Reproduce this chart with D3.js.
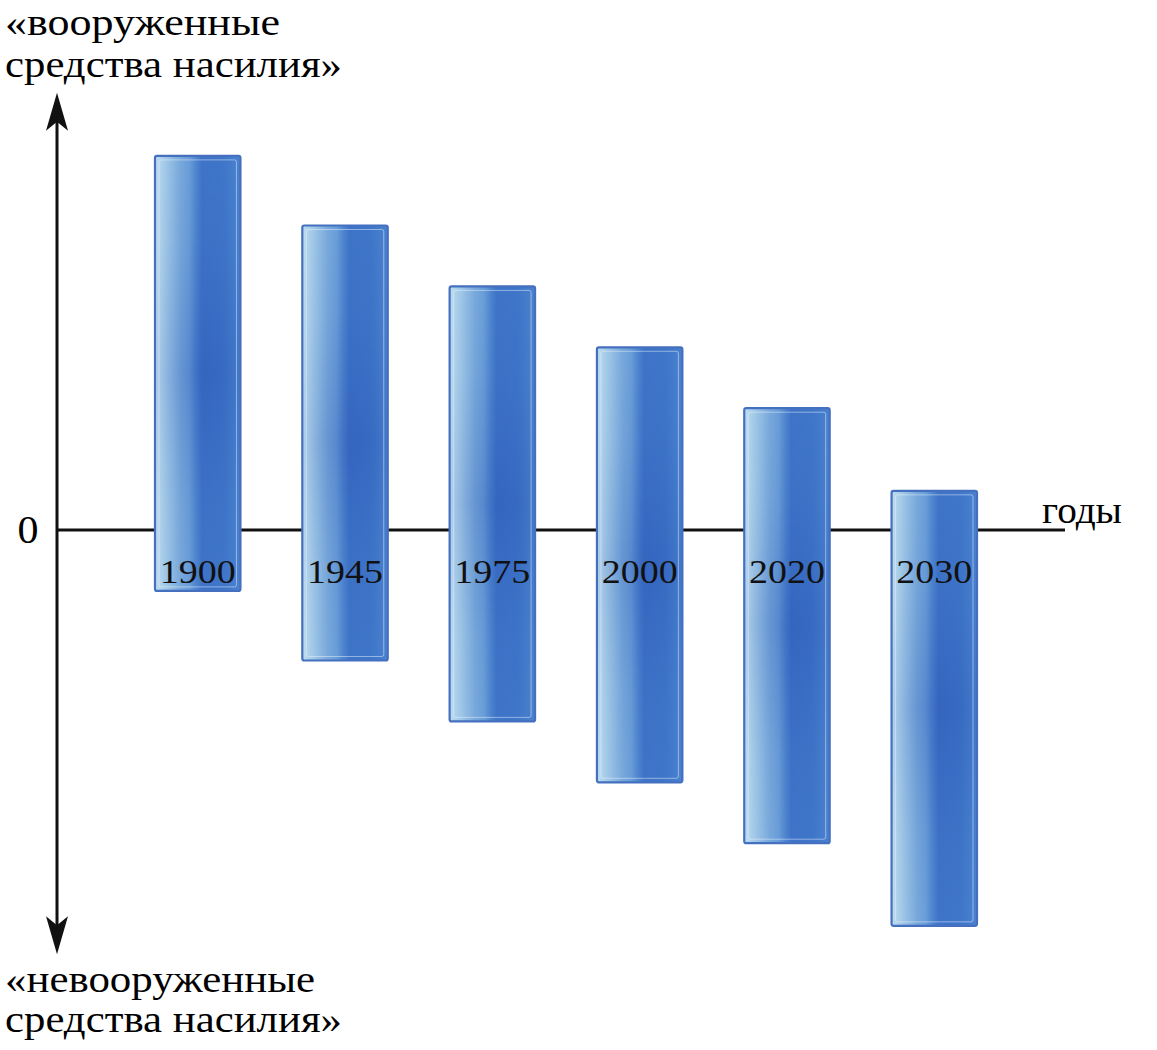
<!DOCTYPE html>
<html>
<head>
<meta charset="utf-8">
<script src="https://cdn.jsdelivr.net/npm/d3@7/dist/d3.min.js"></script>
<style>
  html, body { margin: 0; padding: 0; background: #ffffff; }
  svg { display: block; }
</style>
</head>
<body>
<svg id="chart" width="1157" height="1050"></svg>
<script>
// ---- data ----
const years = ["1900", "1945", "1975", "2000", "2020", "2030"];
const armed = [86, 70, 56, 42, 28, 9];        // «вооруженные средства насилия» (above zero)
const unarmed = [14, 30, 44, 58, 72, 91];     // «невооруженные средства насилия» (below zero)
const topLabel = ["«вооруженные", "средства насилия»"];
const bottomLabel = ["«невооруженные", "средства насилия»"];
const xAxisLabel = "годы";
const zeroLabel = "0";

const FONT = "'Liberation Serif', 'DejaVu Serif Condensed', 'DejaVu Serif', 'Noto Serif', serif";

// ---- layout ----
const svg = d3.select("#chart");
const axisX = 57;
const zeroY = 530;
const unit = 4.35;

const y = d3.scaleLinear().domain([-100, 100]).range([zeroY + 100 * unit, zeroY - 100 * unit]);
const x = d3.scaleBand().domain(years).range([155, 977]).paddingInner(0.42).paddingOuter(0);

const data = years.map((yr, i) => ({ year: yr, top: armed[i], bottom: -unarmed[i] }));

// ---- gradients ----
const defs = svg.append("defs");
const hg = defs.append("linearGradient").attr("id", "hgrad").attr("x1", 0).attr("x2", 1).attr("y1", 0).attr("y2", 0);
[[0, "#c0def1"], [0.12, "#a2c9e7"], [0.3, "#78a8db"], [0.4, "#6a9ed8"], [0.48, "#4f86cf"],
 [0.55, "#3f74c8"], [0.8, "#3f76c9"], [1, "#4b83cf"]].forEach(([o, c]) =>
  hg.append("stop").attr("offset", o).attr("stop-color", c));

const vg = defs.append("linearGradient").attr("id", "vgrad").attr("x1", 0).attr("x2", 0).attr("y1", 0).attr("y2", 1);
[[0, 0], [0.2, 0.08], [0.5, 0.4], [0.8, 0.08], [1, 0]].forEach(([o, a]) =>
  vg.append("stop").attr("offset", o).attr("stop-color", "#2550b2").attr("stop-opacity", a));

const mg = defs.append("linearGradient").attr("id", "mgrad").attr("x1", 0).attr("x2", 1).attr("y1", 0).attr("y2", 0);
[[0, 0.2], [0.35, 0.6], [0.55, 1], [0.75, 0.85], [1, 0.45]].forEach(([o, a]) =>
  mg.append("stop").attr("offset", o).attr("stop-color", "#fff").attr("stop-opacity", a));
defs.append("mask").attr("id", "hmask").attr("maskContentUnits", "objectBoundingBox")
  .append("rect").attr("x", 0).attr("y", 0).attr("width", 1).attr("height", 1).attr("fill", "url(#mgrad)");

// ---- zero line ----
svg.append("line")
  .attr("x1", axisX).attr("x2", 1065)
  .attr("y1", y(0)).attr("y2", y(0))
  .attr("stroke", "#111").attr("stroke-width", 3);

// ---- vertical axis with arrows ----
const topTip = y(100.5), botTip = y(-97.5);
svg.append("line")
  .attr("x1", axisX).attr("x2", axisX)
  .attr("y1", topTip + 20).attr("y2", botTip - 20)
  .attr("stroke", "#111").attr("stroke-width", 3);
function arrow(tipY, dir) {
  const p = d3.path();
  p.moveTo(axisX, tipY);
  p.lineTo(axisX + 11, tipY - dir * 38);
  p.lineTo(axisX, tipY - dir * 29);
  p.lineTo(axisX - 11, tipY - dir * 38);
  p.closePath();
  svg.append("path").attr("d", p.toString()).attr("fill", "#111");
}
arrow(topTip, -1);
arrow(botTip, 1);

// ---- bars ----
const g = svg.append("g").selectAll("g").data(data).join("g");
g.append("rect")
  .attr("x", d => x(d.year)).attr("y", d => y(d.top))
  .attr("width", x.bandwidth()).attr("height", d => y(d.bottom) - y(d.top))
  .attr("rx", 2).attr("fill", "url(#hgrad)");
g.append("rect")
  .attr("x", d => x(d.year)).attr("y", d => y(d.top))
  .attr("width", x.bandwidth()).attr("height", d => y(d.bottom) - y(d.top))
  .attr("fill", "url(#vgrad)").attr("mask", "url(#hmask)");
g.append("rect")
  .attr("x", d => x(d.year)).attr("y", d => y(d.top))
  .attr("width", x.bandwidth()).attr("height", d => y(d.bottom) - y(d.top))
  .attr("rx", 2).attr("fill", "none")
  .attr("stroke", "#4570c0").attr("stroke-width", 2.2);
g.append("rect")
  .attr("x", d => x(d.year) + 4).attr("y", d => y(d.top) + 4)
  .attr("width", x.bandwidth() - 8).attr("height", d => y(d.bottom) - y(d.top) - 8)
  .attr("rx", 2).attr("fill", "none")
  .attr("stroke", "#e8f2fb").attr("stroke-opacity", 0.5).attr("stroke-width", 1);

// year labels
g.append("text")
  .attr("x", d => x(d.year) + x.bandwidth() / 2)
  .attr("y", y(0) + 53)
  .attr("text-anchor", "middle")
  .attr("font-family", FONT).attr("font-size", 34).attr("fill", "#111")
  .attr("textLength", 76).attr("lengthAdjust", "spacingAndGlyphs")
  .text(d => d.year);

// ---- axis labels ----
svg.append("text").attr("x", 28).attr("y", y(0) + 13).attr("text-anchor", "middle")
  .attr("font-family", FONT).attr("font-size", 41)
  .attr("textLength", 21).attr("lengthAdjust", "spacingAndGlyphs").text(zeroLabel);
svg.append("text").attr("x", 1042).attr("y", y(0) - 7)
  .attr("font-family", FONT).attr("font-size", 37)
  .attr("textLength", 80).attr("lengthAdjust", "spacingAndGlyphs").text(xAxisLabel);

const topLens = [275, 337];
const botLens = [310, 337];
topLabel.forEach((t, i) =>
  svg.append("text").attr("x", 5).attr("y", 35 + i * 42)
    .attr("font-family", FONT).attr("font-size", 38)
    .attr("textLength", topLens[i]).attr("lengthAdjust", "spacingAndGlyphs").text(t));
bottomLabel.forEach((t, i) =>
  svg.append("text").attr("x", 5).attr("y", 992 + i * 40)
    .attr("font-family", FONT).attr("font-size", 38)
    .attr("textLength", botLens[i]).attr("lengthAdjust", "spacingAndGlyphs").text(t));
</script>
</body>
</html>
